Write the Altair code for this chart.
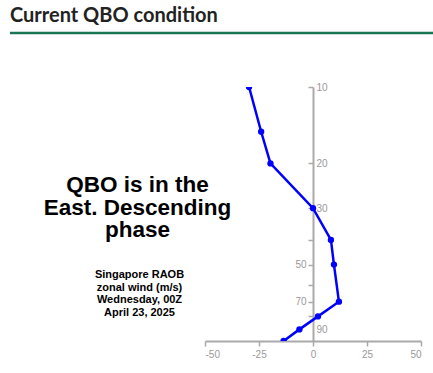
import altair as alt
import pandas as pd

# Data: Singapore RAOB zonal wind by pressure level (hPa)
pressure = [10, 15, 20, 30, 40, 50, 70, 80, 90, 100]
wind = [-29.6, -24.0, -19.7, 0.0, 8.3, 9.7, 12.0, 2.3, -6.3, -13.6]

x_ticks = [-50, -25, 0, 25, 50]
y_tick_levels = [10, 20, 30, 40, 50, 60, 70, 80]
y_labels_right = [10, 20, 30, 90]
y_labels_left = [50, 70]

title_text = "Current QBO condition"
status_lines = ["QBO is in the", "East. Descending", "phase"]
info_lines = ["Singapore RAOB", "zonal wind (m/s)", "Wednesday, 00Z", "April 23, 2025"]

df = pd.DataFrame({"p": pressure, "u": wind, "i": list(range(len(pressure)))})

AX = "#aaaaaa"
LBL = "#999999"
FONT = "Liberation Sans"

xs = alt.Scale(domain=[-50, 50], nice=False, zero=False)
ys = alt.Scale(type="log", domain=[10, 100], reverse=True, nice=False)

left_expr = " || ".join(f"datum.value == {v}" for v in y_labels_left)

base = alt.Chart(df)

line = base.mark_line(color="#0000ff", strokeWidth=2.5, clip=True).encode(
    x=alt.X("u:Q", scale=xs, axis=alt.Axis(values=x_ticks, grid=False, title=None,
                                          domainColor=AX, domainWidth=2, tickColor=AX,
                                          tickWidth=1.5, tickSize=5, labelColor=LBL,
                                          labelFont=FONT, labelFontSize=10, labelPadding=3,
                                          labelExpr="toString(datum.value)")),
    y=alt.Y("p:Q", scale=ys, axis=alt.Axis(orient="left", offset=-108, values=y_tick_levels,
                                          grid=False, title=None, domainColor=AX, domainWidth=2,
                                          tickColor=AX, tickWidth=1.5, tickSize=5,
                                          labelColor=LBL, labelFont=FONT, labelFontSize=10,
                                          labelPadding=2,
                                          labelExpr=f"({left_expr}) ? toString(datum.value) : ''")),
    order=alt.Order("i:Q"),
)
pts = base.mark_circle(color="#0000ff", size=40, opacity=1, clip=True).encode(
    x=alt.X("u:Q", scale=xs),
    y=alt.Y("p:Q", scale=ys, axis=alt.Axis(orient="right", offset=-108, values=y_labels_right,
                                          grid=False, title=None, domain=False, ticks=False,
                                          labelColor=LBL, labelFont=FONT, labelFontSize=10,
                                          labelPadding=3, labelBaseline="middle",
                                          labelExpr="toString(datum.value)")),
)

ann = alt.Chart(pd.DataFrame({"a": [0]}))
title = ann.mark_text(align="left", baseline="alphabetic", font="Lato", fontWeight="bold",
                      fontSize=20, color="#222222").encode(
    x=alt.value(-195), y=alt.value(-65.5), text=alt.value(title_text))
green = ann.mark_rule(color="#1b7656", strokeWidth=2.5).encode(
    x=alt.value(-195), x2=alt.value(228), y=alt.value(-54))
status = ann.mark_text(align="center", baseline="alphabetic", font=FONT, fontWeight="bold",
                       fontSize=22.5, lineHeight=22.5, lineBreak="\n", color="#000000").encode(
    x=alt.value(-67.5), y=alt.value(105), text=alt.value("\n".join(status_lines)))
info = ann.mark_text(align="center", baseline="alphabetic", font=FONT, fontWeight="bold",
                     fontSize=11, lineHeight=12.5, lineBreak="\n", color="#000000").encode(
    x=alt.value(-65.5), y=alt.value(191), text=alt.value("\n".join(info_lines)))

chart = alt.layer(line, pts, title, green, status, info).properties(
    width=216, height=254,
    padding={"left": 205, "top": 87, "right": 12, "bottom": 32},
    autosize="none", background="white",
).configure_view(stroke=None)

chart.save("out.html", embed_options={"renderer": "svg", "actions": False})
